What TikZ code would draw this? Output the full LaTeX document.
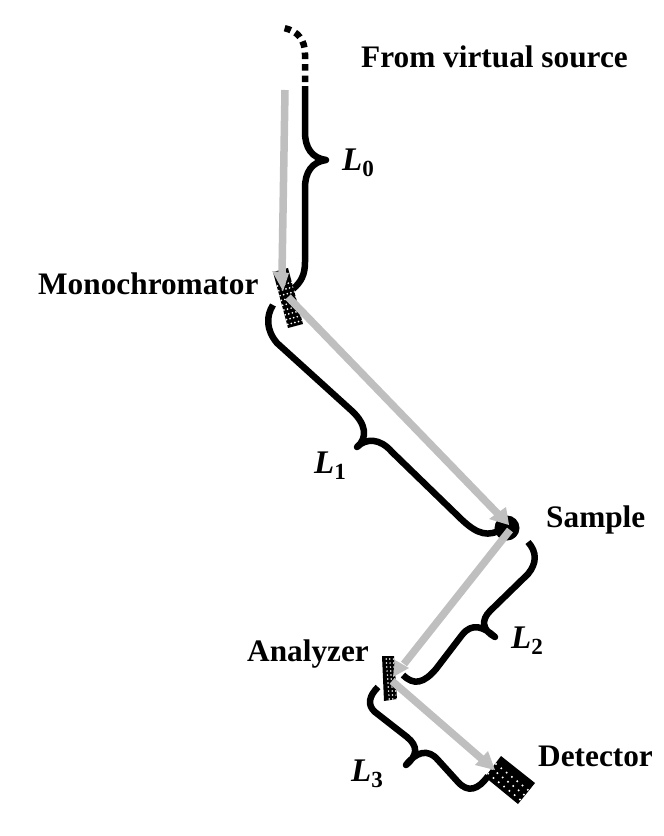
\documentclass[tikz,border=0pt]{standalone}
\usepackage{fontspec}
\setmainfont{Liberation Serif}
\begin{document}
\begin{tikzpicture}[x=1pt,y=-1pt,
  bracket/.style={line width=6.5pt,black,line join=round},
  beam/.style={line width=7.5pt,draw=beamgrey},
  beamhead/.style={fill=beamgrey,draw=none},
  lab/.style={font=\bfseries\fontsize{31.3}{34}\selectfont,inner sep=0pt,anchor=base west},
  dist/.style={font=\bfseries\itshape\fontsize{33}{34}\selectfont,inner sep=0pt,anchor=base west}]
\definecolor{beamgrey}{gray}{0.75}
\useasboundingbox (0,0) rectangle (664,836);

% Incoming path: dotted start, then the L0 bracket
\draw[line width=6.5pt,dash pattern=on 6.5pt off 5pt]
  (305,82) -- (305,54) .. controls (305,40) and (298,31) .. (284,28);
\draw[bracket] (305,86) -- (305,132) .. controls (305,148) and (312,158) .. (326,160)
  .. controls (312,162) and (305,172) .. (305,188) -- (305,262)
  .. controls (305,275) and (301,282) .. (293,289);

% L1 bracket
\draw[bracket] (273,305) .. controls (266,316) and (266,330) .. (277,343)
  -- (352,411) .. controls (366,424) and (368,438) .. (357,447)
  .. controls (366,438) and (380,438) .. (392,452)
  -- (458,516) .. controls (472,530) and (484,538) .. (498,531);

% L2 bracket
\draw[bracket] (528,542) .. controls (537,552) and (537,563) .. (528,574)
  -- (490,611) .. controls (481,620) and (482,630) .. (495,637)
  .. controls (484,627) and (472,622) .. (462,635)
  -- (436,669) .. controls (424,683) and (414,686) .. (403,675);

% L3 bracket
\draw[bracket] (378,687) .. controls (369,696) and (367,705) .. (375,712)
  -- (407,737) .. controls (418,746) and (418,755) .. (406,765)
  .. controls (416,752) and (428,748) .. (438,760)
  -- (458,782) .. controls (468,793) and (478,790) .. (488,776);

% Sample
\fill (507,528) circle (12.5pt);

% Monochromator crystal
\begin{scope}
  \clip (273,272) -- (288,268) -- (303,324) -- (288,328) -- cycle;
  \fill (265,260) rectangle (310,335);
  \foreach \i in {0,...,11} \foreach \j in {0,...,4}
    \fill[white] ({277.5+\j*3.6+\i*1.28},{286+\i*4.8-\j*0.95}) circle (0.95pt);
\end{scope}

% Analyzer crystal
\begin{scope}
  \clip (382,656) -- (394,656) -- (397,699) -- (384,701) -- cycle;
  \fill (378,650) rectangle (400,705);
  \foreach \i in {0,...,10} \foreach \j in {0,...,2}
    \fill[white] ({386.2+\j*3.6+\i*0.3},{659+\i*4}) circle (0.85pt);
\end{scope}

% Detector
\begin{scope}
  \clip (501,756) -- (535,783) -- (518,804) -- (485,777) -- cycle;
  \fill (480,750) rectangle (540,810);
  \foreach \i in {0,...,7} \foreach \j in {0,...,4}
    \fill[white] ({494+\i*5.3+\j*-3.9+2},{764+\i*4.3+\j*4.8}) circle (1.1pt);
\end{scope}

% Beam segments with their arrowheads
\draw[beam] (285,90) -- (282,274);
\fill[beamhead] (272,271) -- (289,273) -- (283,291) -- cycle;

\draw[beam] (288,297) -- (498,514);
\fill[beamhead] (489,519) -- (506,507) -- (509,525) -- cycle;

\draw[beam] (510,530) -- (404,664);
\fill[beamhead] (395,660) -- (409,668) -- (393,677) -- cycle;

\draw[beam] (392,681) -- (483,760);
\fill[beamhead] (475,765) -- (488,751) -- (495,770) -- cycle;

% Labels
\node[lab] (src) at (361,67) {From virtual source};
\node[lab] (mono) at (38,294) {Monochromator};
\node[lab] (samp) at (546,527) {Sample};
\node[lab] (ana) at (247,661) {Analyzer};
\node[lab] (det) at (538,766) {Detector};
\node[dist] (l0) at (342,170) {L\textsubscript{\textup{0}}};
\node[dist] (l1) at (314,473) {L\textsubscript{\textup{1}}};
\node[dist] (l2) at (511,648) {L\textsubscript{\textup{2}}};
\node[dist] (l3) at (351,781) {L\textsubscript{\textup{3}}};
\end{tikzpicture}
\end{document}
